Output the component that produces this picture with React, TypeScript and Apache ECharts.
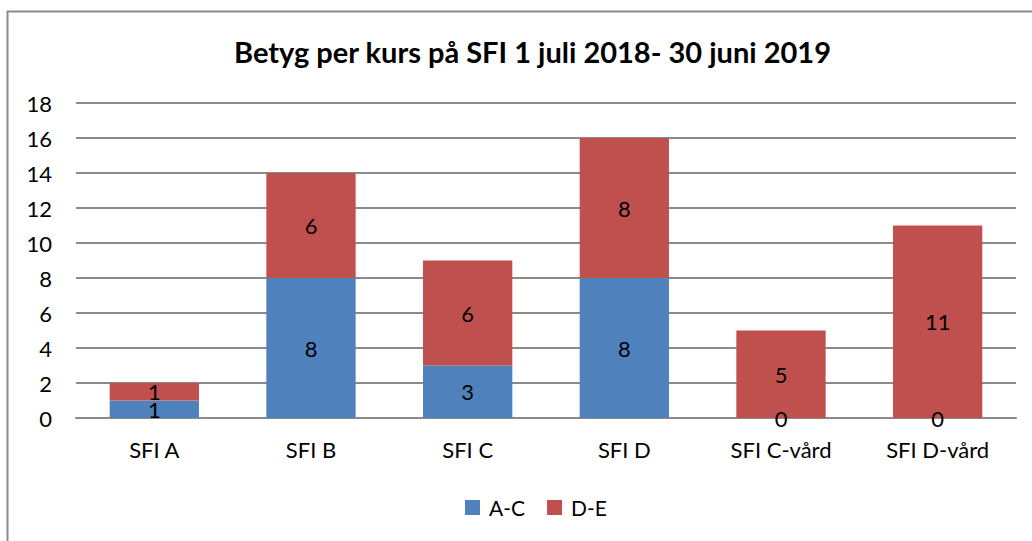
import React, { useEffect, useRef } from "react";
import * as echarts from "echarts";

const categories = ["SFI A", "SFI B", "SFI C", "SFI D", "SFI C-vård", "SFI D-vård"];
const seriesAC = [1, 8, 3, 8, 0, 0];
const seriesDE = [1, 6, 6, 8, 5, 11];
const titleText = "Betyg per kurs på SFI 1 juli 2018- 30 juni 2019";

export default function App() {
  const ref = useRef<HTMLDivElement>(null);
  useEffect(() => {
    if (!ref.current) return;
    const chart = echarts.init(ref.current, undefined, { renderer: "svg" });
    const font = "Lato, 'Open Sans', sans-serif";
    chart.setOption({
      animation: false,
      backgroundColor: "#ffffff",
      textStyle: { fontFamily: font },
      title: {
        text: titleText,
        left: 229,
        top: 32,
        textStyle: { fontSize: 29, fontWeight: "bold", color: "#000", fontFamily: font },
      },
      graphic: [
        {
          type: "rect",
          shape: { x: 7.5, y: 11.5, width: 1100, height: 700 },
          style: { fill: "none", stroke: "#8a8a8a", lineWidth: 2 },
          silent: true,
        },
      ],
      legend: {
        bottom: 18,
        left: 460,
        itemWidth: 15,
        itemHeight: 15,
        itemGap: 22,
        icon: "rect",
        textStyle: { fontSize: 21, color: "#000", fontFamily: font, padding: [0, 0, 0, 4] },
        data: ["A-C", "D-E"],
      },
      grid: { left: 76, right: 16, top: 103, bottom: 123, containLabel: false },
      xAxis: {
        type: "category",
        data: categories,
        axisLine: { lineStyle: { color: "#8a8a8a", width: 2 } },
        axisTick: { show: false },
        axisLabel: { fontSize: 22, color: "#000", margin: 20, fontFamily: font },
      },
      yAxis: {
        type: "value",
        min: 0,
        max: 18,
        interval: 2,
        axisLine: { show: false },
        axisTick: { show: false },
        splitLine: { lineStyle: { color: "#8a8a8a", width: 2 } },
        axisLabel: { fontSize: 22, color: "#000", margin: 24, fontFamily: font },
      },
      series: [
        {
          name: "A-C",
          type: "bar",
          stack: "total",
          barWidth: "57%",
          data: seriesAC,
          itemStyle: { color: "#4F81BD" },
          label: { show: true, position: "inside", fontSize: 22, color: "#000", fontFamily: font },
        },
        {
          name: "D-E",
          type: "bar",
          stack: "total",
          barWidth: "57%",
          data: seriesDE,
          itemStyle: { color: "#C0504D" },
          label: { show: true, position: "inside", fontSize: 22, color: "#000", fontFamily: font },
        },
      ],
    });
    return () => chart.dispose();
  }, []);
  return (
    <div
      ref={ref}
      style={{ position: "fixed", left: 0, top: 0, width: 1032, height: 541 }}
    />
  );
}
